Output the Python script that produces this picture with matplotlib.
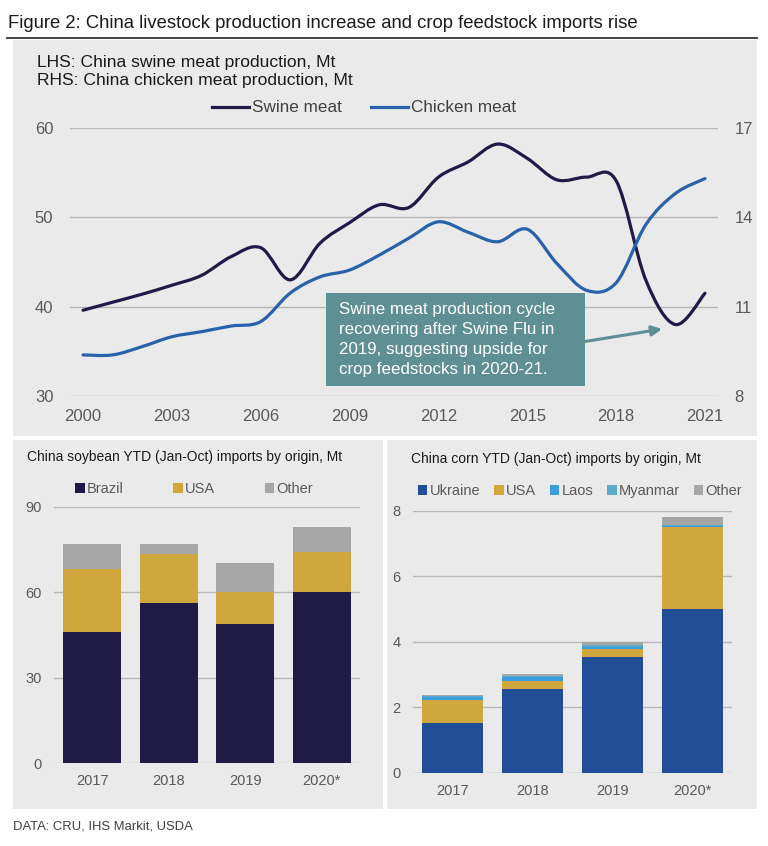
import numpy as np
import matplotlib
matplotlib.use('Agg')
import matplotlib.pyplot as plt
from matplotlib.path import Path
from matplotlib.patches import PathPatch, Rectangle
from matplotlib.lines import Line2D

plt.rcParams['font.family'] = ['Liberation Sans', 'DejaVu Sans']

## Data
years = np.arange(2000, 2022)
swine = [39.6, 40.5, 41.4, 42.4, 43.5, 45.6, 46.6, 43.0, 47.1, 49.4, 51.4,
         51.1, 54.5, 56.2, 58.2, 56.6, 54.2, 54.5, 54.1, 43.0, 38.0, 41.5]
chicken = [9.38, 9.38, 9.66, 9.99, 10.16, 10.35, 10.5, 11.46, 12.0, 12.23, 12.73,
           13.3, 13.85, 13.5, 13.18, 13.6, 12.45, 11.55, 11.8, 13.75, 14.8, 15.3]
year_ticks = [2000, 2003, 2006, 2009, 2012, 2015, 2018, 2021]

bar_years = ['2017', '2018', '2019', '2020*']
soy_brazil = [46.1, 56.2, 48.7, 60.2]
soy_usa = [22.0, 17.1, 11.5, 13.9]
soy_other = [8.7, 3.6, 10.1, 8.8]

corn_ukraine = [1.51, 2.55, 3.54, 4.99]
corn_usa = [0.70, 0.26, 0.24, 2.51]
corn_laos = [0.10, 0.10, 0.07, 0.03]
corn_myanmar = [0.03, 0.05, 0.05, 0.03]
corn_other = [0.03, 0.04, 0.10, 0.26]

NAVY = '#1f1a46'
BLUE = '#2862aa'
GOLD = '#d0a73c'
GREY = '#a6a6a6'
UKR = '#1f4e97'
LAOS = '#3d9be0'
MYAN = '#5aaac9'
TEAL = '#5e8f94'
PANEL = '#eaeaea'
GRID = '#b8b8b8'
TICK = '#595959'

W, H = 768, 846
fig = plt.figure(figsize=(W / 100, H / 100), dpi=100)


def box(x0, y0, x1, y1):
    # pixel box (top-left origin) -> figure fraction
    return [x0 / W, 1 - y1 / H, (x1 - x0) / W, (y1 - y0) / H]


def smooth_path(x, y):
    '''Excel style smoothed line: Catmull-Rom segments as cubic Beziers'''
    p = np.column_stack([x, y]).astype(float)
    ext = np.vstack([p[0], p, p[-1]])
    verts = [p[0]]
    codes = [Path.MOVETO]
    for i in range(len(p) - 1):
        p0, p1, p2, p3 = ext[i], ext[i + 1], ext[i + 2], ext[i + 3]
        verts += [p1 + (p2 - p0) / 6, p2 - (p3 - p1) / 6, p2]
        codes += [Path.CURVE4] * 3
    return Path(verts, codes)


# background panels
for b in [(13, 40, 757, 436), (13, 440, 383, 809), (387, 440, 757, 809)]:
    fig.add_artist(Rectangle((b[0] / W, 1 - b[3] / H), (b[2] - b[0]) / W,
                             (b[3] - b[1]) / H, transform=fig.transFigure,
                             facecolor=PANEL, edgecolor='none', zorder=0))

fig.text(8 / W, 1 - 24 / H, 'Figure 2: China livestock production increase and crop feedstock imports rise',
         fontsize=13.3, color='#1a1a1a', va='center', ha='left')
fig.add_artist(Line2D([7 / W, 757 / W], [1 - 38 / H, 1 - 38 / H], transform=fig.transFigure,
                      color='#333333', lw=1.3))

fig.text(37 / W, 1 - 62 / H, 'LHS: China swine meat production, Mt', fontsize=12.6,
         color='#1a1a1a', va='center')
fig.text(37 / W, 1 - 80 / H, 'RHS: China chicken meat production, Mt', fontsize=12.6,
         color='#1a1a1a', va='center')

## Top chart
ax = fig.add_axes(box(70, 128, 718, 396))
ax.set_facecolor('none')
ax.set_xlim(1999.56, 2021.44)
ax.set_ylim(30, 60)
ax.set_yticks([30, 40, 50, 60])
ax.set_xticks(year_ticks)
ax.grid(axis='y', color=GRID, lw=1)
ax.set_axisbelow(True)
for s in ax.spines.values():
    s.set_visible(False)
ax.tick_params(length=0, labelsize=12, labelcolor=TICK)
ax.tick_params(axis='y', pad=12)
ax.tick_params(axis='x', pad=9)
ax.add_patch(PathPatch(smooth_path(years, swine), fill=False, edgecolor=NAVY, lw=2.3,
                       capstyle='round', joinstyle='round', zorder=3))

ax2 = ax.twinx()
ax2.set_ylim(8, 17)
ax2.set_yticks([8, 11, 14, 17])
for s in ax2.spines.values():
    s.set_visible(False)
ax2.tick_params(length=0, labelsize=12, labelcolor=TICK, pad=12)
ax2.add_patch(PathPatch(smooth_path(years, chicken), fill=False, edgecolor=BLUE, lw=2.3,
                        capstyle='round', joinstyle='round', zorder=3))

handles = [Line2D([], [], color=NAVY, lw=2.3), Line2D([], [], color=BLUE, lw=2.3)]
fig.legend(handles, ['Swine meat', 'Chicken meat'], loc='center', ncol=2,
           bbox_to_anchor=(364 / W, 1 - 108 / H), frameon=False, fontsize=12.3,
           handlelength=2.2, handletextpad=0.15, columnspacing=1.7, labelcolor='#404040')

# annotation box
ax.add_patch(Rectangle((2008.2, 31.1), 8.75, 10.4, facecolor=TEAL, edgecolor='none', zorder=4))
ax.text(2008.65, 36.3, 'Swine meat production cycle\nrecovering after Swine Flu in\n'
        '2019, suggesting upside for\ncrop feedstocks in 2020-21.',
        color='white', fontsize=12.2, va='center', ha='left', linespacing=1.42, zorder=5)
ax.annotate('', xy=(2019.55, 37.5), xytext=(2016.95, 36.1),
            arrowprops=dict(arrowstyle='-|>,head_length=0.6,head_width=0.3', color=TEAL,
                            lw=2.2, shrinkA=0, shrinkB=0), zorder=5)

## Soybean chart
axs = fig.add_axes(box(54, 506.7, 360, 763.3))
axs.set_facecolor('none')
x = np.arange(len(bar_years))
bw = 0.76
axs.bar(x, soy_brazil, bw, color=NAVY, label='Brazil', zorder=2)
axs.bar(x, soy_usa, bw, bottom=np.array(soy_brazil), color=GOLD, label='USA', zorder=2)
axs.bar(x, soy_other, bw, bottom=np.array(soy_brazil) + np.array(soy_usa), color=GREY,
        label='Other', zorder=2)
axs.set_xlim(-0.5, 3.5)
axs.set_ylim(0, 90)
axs.set_yticks([0, 30, 60, 90])
axs.set_xticks(x, bar_years)
axs.grid(axis='y', color=GRID, lw=1)
axs.set_axisbelow(True)
for s in axs.spines.values():
    s.set_visible(False)
axs.tick_params(length=0, labelsize=10.5, labelcolor=TICK)
axs.tick_params(axis='y', pad=9)
axs.tick_params(axis='x', pad=8)
fig.text(27 / W, 1 - 457 / H, 'China soybean YTD (Jan-Oct) imports by origin, Mt',
         fontsize=10, color='#1a1a1a', va='center')
axs.legend(loc='center', bbox_to_anchor=(194 / W, 1 - 489 / H), bbox_transform=fig.transFigure,
           ncol=3, frameon=False, fontsize=10.5, handlelength=0.65, handleheight=0.65,
           handletextpad=0.15, columnspacing=3.4, labelcolor=TICK)

## Corn chart
axc = fig.add_axes(box(413, 510.7, 732, 772.7))
axc.set_facecolor('none')
bottom = np.zeros(len(bar_years))
for vals, col, lab in [(corn_ukraine, UKR, 'Ukraine'), (corn_usa, GOLD, 'USA'),
                       (corn_laos, LAOS, 'Laos'), (corn_myanmar, MYAN, 'Myanmar'),
                       (corn_other, GREY, 'Other')]:
    axc.bar(x, vals, 0.765, bottom=bottom, color=col, label=lab, zorder=2)
    bottom = bottom + np.array(vals)
axc.set_xlim(-0.5, 3.5)
axc.set_ylim(0, 8)
axc.set_yticks([0, 2, 4, 6, 8])
axc.set_xticks(x, bar_years)
axc.grid(axis='y', color=GRID, lw=1)
axc.set_axisbelow(True)
for s in axc.spines.values():
    s.set_visible(False)
axc.tick_params(length=0, labelsize=10.5, labelcolor=TICK)
axc.tick_params(axis='y', pad=9)
axc.tick_params(axis='x', pad=8)
fig.text(411 / W, 1 - 459 / H, 'China corn YTD (Jan-Oct) imports by origin, Mt',
         fontsize=10, color='#1a1a1a', va='center')
axc.legend(loc='center', bbox_to_anchor=(580 / W, 1 - 491 / H), bbox_transform=fig.transFigure,
           ncol=5, frameon=False, fontsize=10.5, handlelength=0.65, handleheight=0.65,
           handletextpad=0.15, columnspacing=0.95, labelcolor=TICK)

fig.text(13 / W, 1 - 826 / H, 'DATA: CRU, IHS Markit, USDA', fontsize=9.4, color='#404040',
         va='center')

fig.savefig('out.png', dpi=100, facecolor='white')
